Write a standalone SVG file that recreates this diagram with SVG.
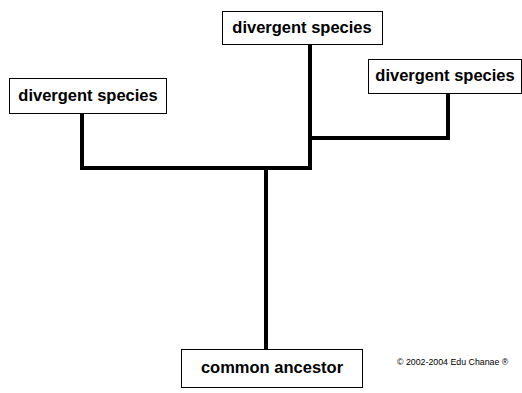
<svg xmlns="http://www.w3.org/2000/svg" width="522" height="393" viewBox="0 0 522 393">
<style>
.box{fill:#fff;stroke:#000;stroke-width:1}
.lbl{font-family:"Liberation Sans",Arial,sans-serif;font-size:16.5px;font-weight:bold;fill:#000;text-anchor:middle}
.edge{fill:none;stroke:#000;stroke-width:4;stroke-linecap:square}
.copy{font-family:"Liberation Sans",Arial,sans-serif;font-size:8.8px;fill:#000}
</style>
<rect width="522" height="393" fill="#fff"/>
<g id="connectors">
<polyline class="edge" points="82,114 82,168 310,168 310,46"/>
<polyline class="edge" points="310,138 448,138 448,94"/>
<line class="edge" x1="266" y1="168" x2="266" y2="348"/>
</g>
<g id="species-left">
<rect class="box" x="9.5" y="78.5" width="157" height="35"/>
<text class="lbl" x="88" y="101">divergent species</text>
</g>
<g id="species-top">
<rect class="box" x="222.5" y="11.5" width="160" height="33"/>
<text class="lbl" x="302" y="33">divergent species</text>
</g>
<g id="species-right">
<rect class="box" x="368.5" y="59.5" width="153" height="34"/>
<text class="lbl" x="445" y="81">divergent species</text>
</g>
<g id="common-ancestor">
<rect class="box" x="181.5" y="349.5" width="181" height="38"/>
<text class="lbl" x="272" y="373">common ancestor</text>
</g>
<text class="copy" x="397" y="365">© 2002-2004 Edu Chanae ®</text>
</svg>
